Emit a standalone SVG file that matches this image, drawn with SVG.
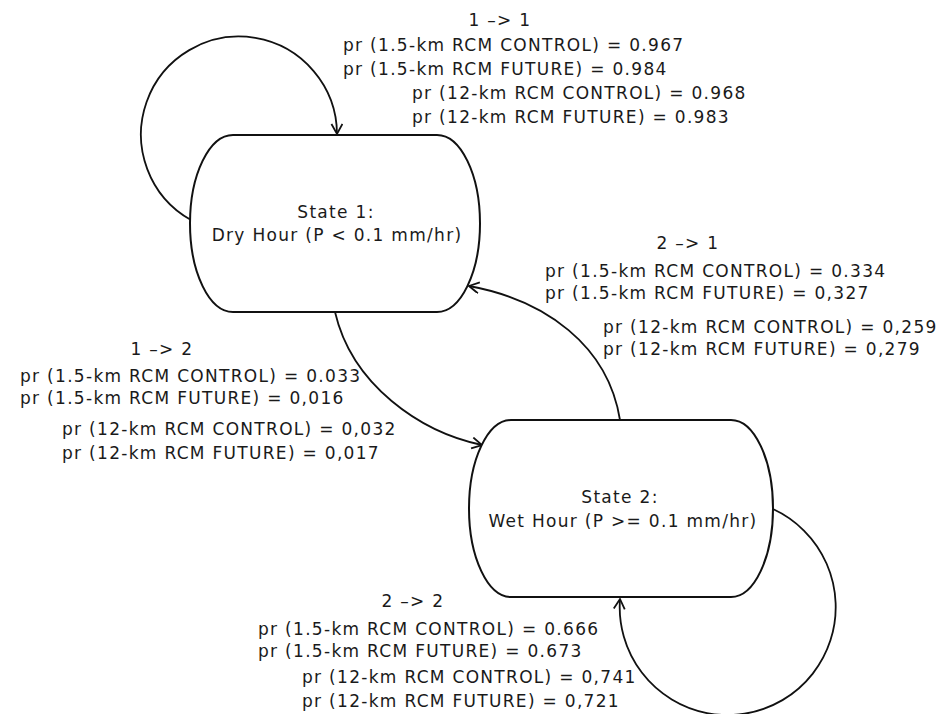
<svg xmlns="http://www.w3.org/2000/svg" width="951" height="714" viewBox="0 0 951 714">
<style>
  .bg { fill: #ffffff; }
  .node { fill: #ffffff; stroke: #111111; stroke-width: 2; }
  .edge { fill: none; stroke: #111111; stroke-width: 1.8; }
  text { font-family: "DejaVu Sans", "Liberation Sans", sans-serif; font-size: 17px; fill: #1a1a1a; letter-spacing: 1.3px; }
  .c { text-anchor: middle; }
</style>
<defs>
  <marker id="arrow" markerUnits="userSpaceOnUse" markerWidth="14" markerHeight="14" refX="11" refY="6" orient="auto">
    <path d="M1,0.5 L11,6 L1,11.5" fill="none" stroke="#111111" stroke-width="1.8"/>
  </marker>
</defs>
<rect class="bg" x="0" y="0" width="951" height="714"/>
<g id="connectors">
  <path id="e11" class="edge" d="M191,220 A98,98 0 1 1 337,134" marker-end="url(#arrow)"/>
  <path id="e12" class="edge" d="M335,312 C352,385 420,432 482,445" marker-end="url(#arrow)"/>
  <path id="e21" class="edge" d="M620,420 C608,345 545,300 469,286" marker-end="url(#arrow)"/>
  <path id="e22" class="edge" d="M773,509 A108,108 0 1 1 620,599" marker-end="url(#arrow)"/>
</g>
<g id="node1">
  <rect class="node" x="190" y="135" width="290" height="177" rx="43" ry="88.5"/>
  <text class="c" x="336" y="218">State 1:</text>
  <text class="c" x="337" y="241">Dry Hour (P &lt; 0.1 mm/hr)</text>
</g>
<g id="node2">
  <rect class="node" x="469" y="420" width="304" height="177" rx="42" ry="88.5"/>
  <text class="c" x="620" y="503">State 2:</text>
  <text class="c" x="623" y="527">Wet Hour (P &gt;= 0.1 mm/hr)</text>
</g>
<g id="label11">
  <text class="c" x="500" y="26">1 –&gt; 1</text>
  <text x="343" y="51">pr (1.5-km RCM CONTROL) = 0.967</text>
  <text x="343" y="75">pr (1.5-km RCM FUTURE) = 0.984</text>
  <text x="412" y="99">pr (12-km RCM CONTROL) = 0.968</text>
  <text x="412" y="123">pr (12-km RCM FUTURE) = 0.983</text>
</g>
<g id="label12">
  <text class="c" x="162" y="355">1 –&gt; 2</text>
  <text x="20" y="382">pr (1.5-km RCM CONTROL) = 0.033</text>
  <text x="20" y="404">pr (1.5-km RCM FUTURE) = 0,016</text>
  <text x="62" y="435">pr (12-km RCM CONTROL) = 0,032</text>
  <text x="62" y="459">pr (12-km RCM FUTURE) = 0,017</text>
</g>
<g id="label21">
  <text class="c" x="688" y="249">2 –&gt; 1</text>
  <text x="545" y="277">pr (1.5-km RCM CONTROL) = 0.334</text>
  <text x="545" y="299">pr (1.5-km RCM FUTURE) = 0,327</text>
  <text x="603" y="333">pr (12-km RCM CONTROL) = 0,259</text>
  <text x="603" y="355">pr (12-km RCM FUTURE) = 0,279</text>
</g>
<g id="label22">
  <text class="c" x="413" y="607">2 –&gt; 2</text>
  <text x="258" y="635">pr (1.5-km RCM CONTROL) = 0.666</text>
  <text x="258" y="657">pr (1.5-km RCM FUTURE) = 0.673</text>
  <text x="302" y="683">pr (12-km RCM CONTROL) = 0,741</text>
  <text x="302" y="707">pr (12-km RCM FUTURE) = 0,721</text>
</g>
</svg>
